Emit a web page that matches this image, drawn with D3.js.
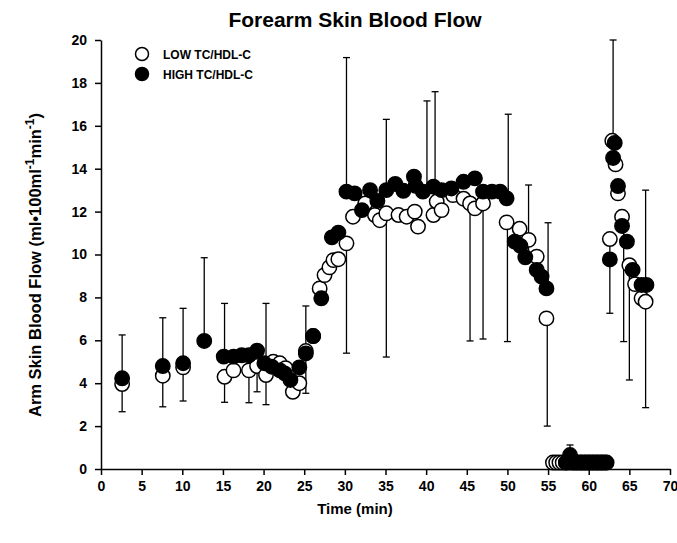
<!DOCTYPE html>
<html><head><meta charset="utf-8">
<script src="https://cdn.jsdelivr.net/npm/d3@7"></script>
<style>
body{margin:0;background:#fff;}
text{font-family:"Liberation Sans",Arial,sans-serif;font-weight:bold;fill:#000;}
</style></head><body>
<svg id="c" width="677" height="543"></svg>
<script>
// ---- data ----
const title = "Forearm Skin Blood Flow";
const xLabel = "Time (min)";
const seriesNames = ["LOW TC/HDL-C", "HIGH TC/HDL-C"];
const xTicks = [0,5,10,15,20,25,30,35,40,45,50,55,60,65,70];
const yTicks = [0,2,4,6,8,10,12,14,16,18,20];

const lowT = [2.6,7.6,10.1,15.2,16.3,18.2,19.2,20.3,21.2,22.0,22.7,23.6,24.4,25.2,26.1,26.9,27.5,28.1,28.6,29.2,30.2,31.0,32.5,33.7,34.3,35.1,36.6,37.6,38.6,39.0,40.9,41.3,41.9,43.3,44.6,45.4,46.0,47.0,49.9,51.5,52.6,53.6,54.8,55.6,56.0,56.4,56.8,57.2,57.6,58.0,58.5,59.0,59.5,60.0,60.5,61.0,61.5,62.0,62.6,62.9,63.3,63.6,64.1,65.0,65.7,66.5,67.0];
const lowV = [3.96,4.35,4.74,4.3,4.6,4.6,4.8,4.38,5.0,4.93,4.7,3.6,4.0,5.5,6.2,8.42,9.04,9.4,9.74,9.78,10.52,11.76,12.38,11.84,11.6,11.92,11.84,11.76,12.0,11.3,11.84,12.47,12.07,12.77,12.6,12.38,12.15,12.38,11.5,11.2,10.68,9.9,7.02,0.3,0.3,0.3,0.3,0.3,0.3,0.3,0.3,0.3,0.3,0.3,0.3,0.3,0.3,0.3,10.72,15.3,14.2,12.85,11.76,9.5,8.62,7.96,7.8];

const highT = [2.6,7.6,10.1,12.7,15.1,16.3,17.3,18.2,19.2,20.1,21.0,22.0,22.6,23.3,24.4,25.2,26.1,27.1,28.4,29.2,30.2,31.2,32.1,33.1,34.0,35.1,36.2,37.2,38.5,38.7,39.6,40.9,41.9,43.1,44.6,46.0,47.0,48.1,49.1,49.9,50.9,51.6,52.2,53.6,54.2,54.8,57.2,57.7,58.2,58.7,59.2,59.7,60.2,60.7,61.2,61.7,62.2,62.6,63.0,63.2,63.6,64.1,64.7,65.4,66.5,67.1];
const highV = [4.23,4.8,4.93,5.97,5.24,5.24,5.3,5.3,5.52,4.93,4.77,4.6,4.46,4.15,4.74,5.39,6.2,7.96,10.8,11.02,12.93,12.85,12.07,13.0,12.5,13.0,13.29,12.97,13.63,13.2,12.93,13.16,13.0,13.08,13.39,13.55,12.93,12.93,12.93,12.62,10.6,10.4,9.87,9.28,8.97,8.42,0.3,0.65,0.3,0.3,0.3,0.3,0.3,0.3,0.3,0.3,0.3,9.77,14.5,15.2,13.19,11.33,10.6,9.28,8.58,8.58];

// upper error bars (high series)
const upT    = [2.6,7.6,10.1,12.7,15.2,20.3,25.2,30.2,35.1,40.1,41.1,50.1,52.6,55.0,57.7,63.0,67.0];
const upMean = [4.23,4.8,4.93,5.97,5.24,4.93,5.39,12.93,13.0,13.1,13.1,12.62,9.9,8.42,0.65,15.2,8.58];
const upTop  = [6.25,7.05,7.49,9.85,7.72,7.72,7.6,19.18,16.3,17.16,17.59,16.54,13.24,11.48,1.12,20.0,13.0];
// lower error bars (low series)
const dnT    = [2.6,7.6,10.1,15.2,18.2,19.2,20.3,25.2,30.2,35.1,45.4,47.0,50.0,54.9,62.6,64.3,65.0,67.0];
const dnMean = [3.96,4.35,4.74,4.3,4.6,4.8,4.38,5.5,10.52,11.92,12.38,12.38,11.5,7.02,10.72,11.76,9.5,7.8];
const dnBot  = [2.67,2.9,3.17,3.11,3.09,3.6,3.0,3.53,5.4,5.22,5.97,6.06,5.94,2.0,7.26,5.94,4.15,2.86];

// ---- drawing ----
const svg = d3.select("#c");
const x = d3.scaleLinear().domain([0,70]).range([101,670]);
const y = d3.scaleLinear().domain([0,20]).range([469,40]);

svg.append("text").attr("x",355).attr("y",27).attr("text-anchor","middle")
  .style("font-size","21px").text(title);

const xa = svg.append("g").attr("transform","translate(0,469)")
  .call(d3.axisBottom(x).tickValues(xTicks).tickSize(6).tickSizeOuter(0).tickPadding(6));
const ya = svg.append("g").attr("transform","translate(101,0)")
  .call(d3.axisLeft(y).tickValues(yTicks).tickSize(6).tickSizeOuter(0).tickPadding(8));
[xa,ya].forEach(g=>{
  g.selectAll("path,line").attr("stroke","#000").attr("stroke-width",1.5);
  g.selectAll("text").style("font-size","14px").style("font-family","'Liberation Sans',Arial,sans-serif").style("font-weight","bold");
});

svg.append("text").attr("x",355).attr("y",514).attr("text-anchor","middle")
  .style("font-size","15px").text(xLabel);

const yl = svg.append("text").attr("transform","translate(41,265) rotate(-90)")
  .attr("text-anchor","middle").style("font-size","16.5px");
yl.append("tspan").text("Arm Skin Blood Flow (ml\u2022100ml");
yl.append("tspan").attr("dy",-7).style("font-size","12px").text("-1");
yl.append("tspan").attr("dy",7).text("min");
yl.append("tspan").attr("dy",-7).style("font-size","12px").text("-1");
yl.append("tspan").attr("dy",7).text(")");

// error bars
const cap = 3.5;
const eb = svg.append("g").attr("stroke","#000").attr("stroke-width",1.3).attr("fill","none");
upT.forEach((t,i)=>{
  const px=x(t);
  eb.append("line").attr("x1",px).attr("x2",px).attr("y1",y(upMean[i])).attr("y2",y(upTop[i]));
  eb.append("line").attr("x1",px-cap).attr("x2",px+cap).attr("y1",y(upTop[i])).attr("y2",y(upTop[i]));
});
dnT.forEach((t,i)=>{
  const px=x(t);
  eb.append("line").attr("x1",px).attr("x2",px).attr("y1",y(dnMean[i])).attr("y2",y(dnBot[i]));
  eb.append("line").attr("x1",px-cap).attr("x2",px+cap).attr("y1",y(dnBot[i])).attr("y2",y(dnBot[i]));
});

// points
const r = 7.2;
svg.append("g").selectAll("circle").data(lowT.map((t,i)=>[t,lowV[i]])).join("circle")
  .attr("cx",d=>x(d[0])).attr("cy",d=>y(d[1])).attr("r",r)
  .attr("fill","#fff").attr("stroke","#000").attr("stroke-width",1.5);
svg.append("g").selectAll("circle").data(highT.map((t,i)=>[t,highV[i]])).join("circle")
  .attr("cx",d=>x(d[0])).attr("cy",d=>y(d[1])).attr("r",r)
  .attr("fill","#000").attr("stroke","#000").attr("stroke-width",1.5);

// legend
const lg = svg.append("g");
seriesNames.forEach((n,i)=>{
  const cy = 54 + i*20;
  lg.append("circle").attr("cx",142).attr("cy",cy).attr("r",6.5)
    .attr("fill", i===0?"#fff":"#000").attr("stroke","#000").attr("stroke-width",1.5);
  lg.append("text").attr("x",163).attr("y",cy+4.5).style("font-size","12px").text(n);
});
</script></body></html>
